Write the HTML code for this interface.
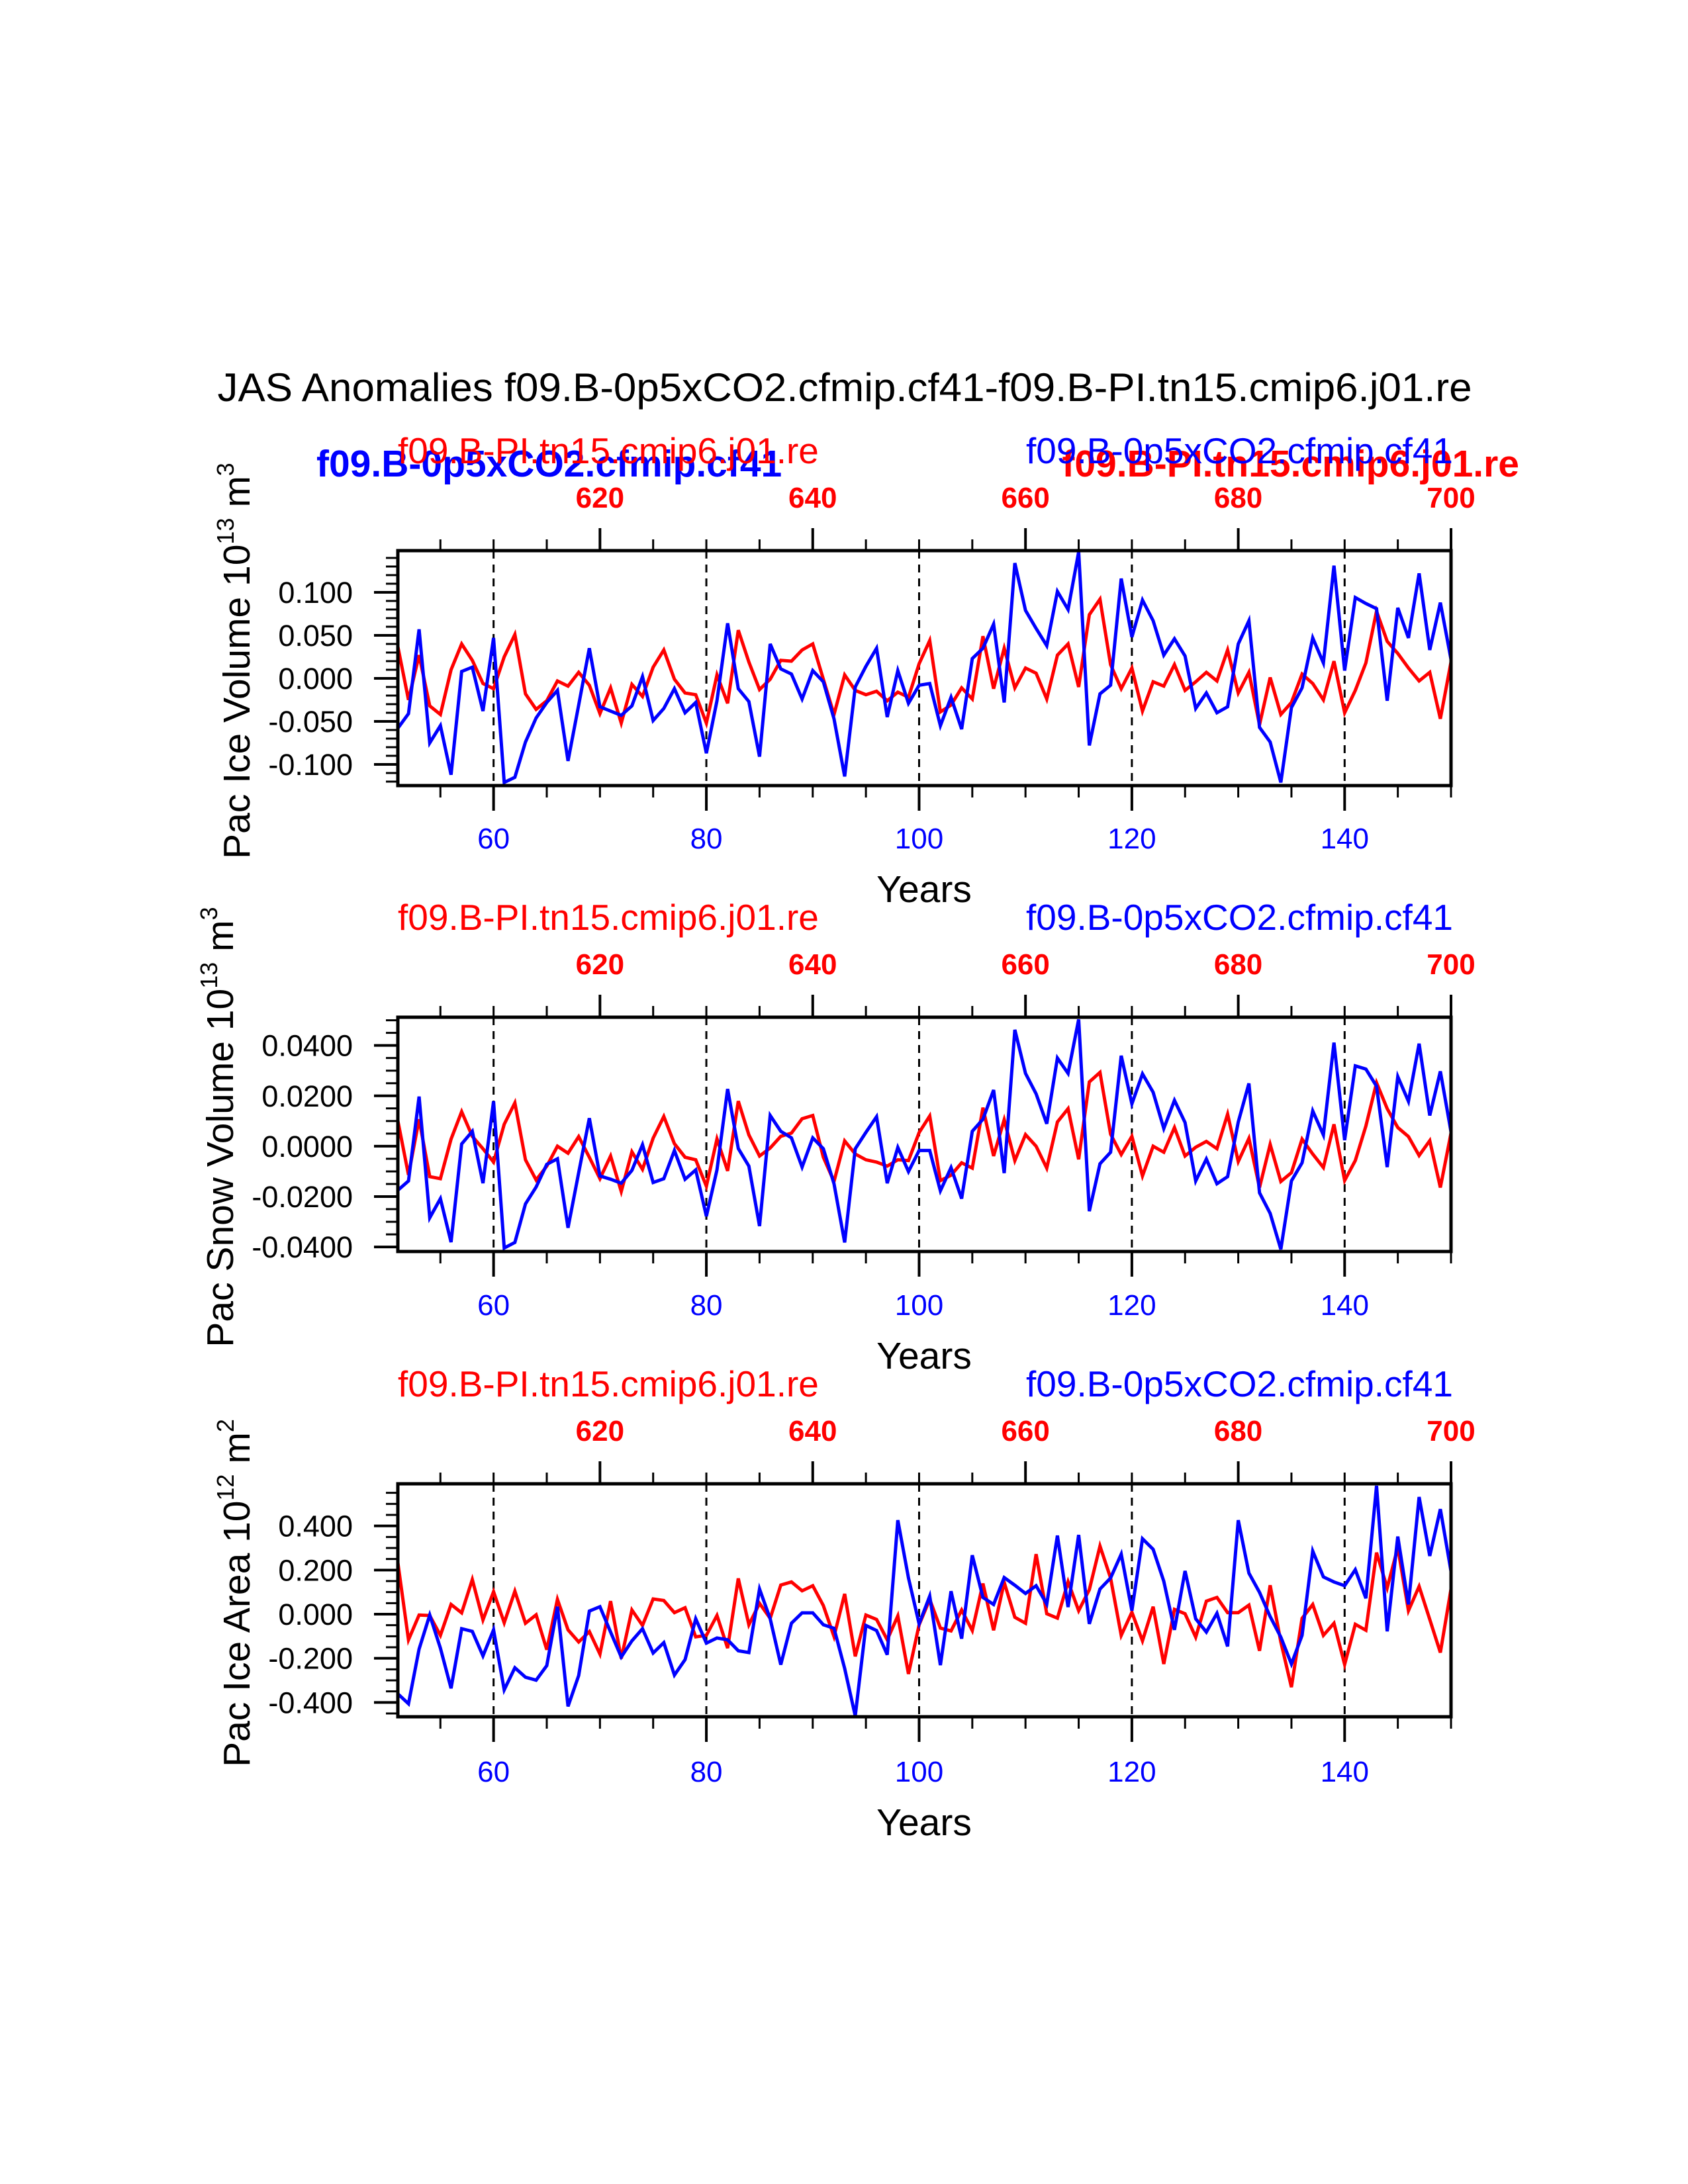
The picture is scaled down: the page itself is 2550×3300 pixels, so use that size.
<!DOCTYPE html>
<html><head><meta charset="utf-8"><style>
html,body{margin:0;padding:0;background:#fff;}
svg{display:block;font-family:"Liberation Sans",sans-serif;}
</style></head><body>
<svg id="chart" xmlns="http://www.w3.org/2000/svg" width="2550" height="3300" viewBox="0 0 2550 3300">
<rect width="2550" height="3300" fill="#fff"/>
<text x="1276" y="606" font-size="60" text-anchor="middle" textLength="1895" lengthAdjust="spacingAndGlyphs">JAS Anomalies f09.B-0p5xCO2.cfmip.cf41-f09.B-PI.tn15.cmip6.j01.re</text>
<text x="478" y="720" font-size="57" font-weight="bold" fill="#0000ff">f09.B-0p5xCO2.cfmip.cf41</text>
<text x="2295" y="720" font-size="57" font-weight="bold" fill="#ff0000" text-anchor="end">f09.B-PI.tn15.cmip6.j01.re</text>
</svg>
<script>
const years = [];
for (let y = 51; y <= 150; y++) years.push(y);
const iceVolBlue = [-0.058,-0.041,0.057,-0.075,-0.055,-0.112,0.008,0.013,-0.038,0.047,-0.121,-0.115,-0.074,-0.046,-0.028,-0.014,-0.096,-0.031,0.035,-0.033,-0.038,-0.043,-0.032,0.002,-0.049,-0.035,-0.012,-0.040,-0.028,-0.087,-0.026,0.064,-0.012,-0.027,-0.091,0.040,0.011,0.005,-0.024,0.009,-0.004,-0.047,-0.114,-0.010,0.014,0.035,-0.045,0.009,-0.029,-0.008,-0.006,-0.055,-0.022,-0.059,0.023,0.035,0.063,-0.028,0.134,0.079,0.058,0.038,0.101,0.080,0.147,-0.078,-0.018,-0.008,0.116,0.048,0.091,0.067,0.027,0.046,0.026,-0.035,-0.017,-0.040,-0.033,0.040,0.067,-0.057,-0.074,-0.121,-0.034,-0.011,0.047,0.018,0.131,0.009,0.094,0.087,0.081,-0.026,0.082,0.047,0.122,0.033,0.088,0.022];
const iceVolRed = [0.037,-0.025,0.027,-0.032,-0.042,0.010,0.040,0.021,-0.006,-0.012,0.025,0.051,-0.018,-0.036,-0.026,-0.003,-0.009,0.007,-0.008,-0.041,-0.011,-0.052,-0.007,-0.021,0.013,0.033,-0.001,-0.017,-0.019,-0.052,0.004,-0.029,0.056,0.019,-0.013,-0.001,0.021,0.020,0.033,0.040,-0.001,-0.042,0.004,-0.014,-0.019,-0.015,-0.026,-0.016,-0.022,0.017,0.044,-0.039,-0.031,-0.011,-0.024,0.049,-0.012,0.035,-0.011,0.012,0.006,-0.024,0.027,0.040,-0.010,0.074,0.092,0.016,-0.012,0.012,-0.038,-0.004,-0.009,0.016,-0.014,-0.004,0.007,-0.003,0.033,-0.017,0.007,-0.054,0.001,-0.042,-0.028,0.005,-0.006,-0.025,0.020,-0.040,-0.014,0.018,0.078,0.043,0.029,0.012,-0.003,0.007,-0.047,0.019];
const snowBlue = [-0.0175,-0.0138,0.0197,-0.0284,-0.0208,-0.0381,0.0009,0.0059,-0.0147,0.0178,-0.0404,-0.0382,-0.0229,-0.0162,-0.0072,-0.0050,-0.0324,-0.0105,0.0111,-0.0118,-0.0131,-0.0147,-0.0096,0.0006,-0.0144,-0.0129,-0.0017,-0.0131,-0.0094,-0.0278,-0.0094,0.0227,-0.0009,-0.0079,-0.0317,0.0122,0.0059,0.0033,-0.0083,0.0033,-0.0010,-0.0149,-0.0382,-0.0010,0.0055,0.0117,-0.0147,-0.0005,-0.0101,-0.0017,-0.0017,-0.0177,-0.0085,-0.0208,0.0059,0.0107,0.0223,-0.0107,0.0462,0.0289,0.0208,0.0089,0.0350,0.0289,0.0503,-0.0258,-0.0070,-0.0024,0.0359,0.0168,0.0287,0.0214,0.0070,0.0182,0.0094,-0.0138,-0.0051,-0.0149,-0.0121,0.0096,0.0249,-0.0185,-0.0267,-0.0409,-0.0138,-0.0066,0.0140,0.0045,0.0411,0.0024,0.0319,0.0306,0.0238,-0.0083,0.0276,0.0178,0.0407,0.0122,0.0297,0.0057];
const snowRed = [0.0101,-0.0114,0.0107,-0.0121,-0.0129,0.0028,0.0137,0.0039,-0.0010,-0.0063,0.0087,0.0172,-0.0054,-0.0134,-0.0079,0.0000,-0.0028,0.0038,-0.0044,-0.0129,-0.0039,-0.0180,-0.0022,-0.0092,0.0032,0.0118,0.0010,-0.0044,-0.0054,-0.0159,0.0029,-0.0098,0.0179,0.0045,-0.0039,-0.0007,0.0039,0.0052,0.0109,0.0122,-0.0044,-0.0140,0.0021,-0.0031,-0.0054,-0.0063,-0.0079,-0.0054,-0.0057,0.0054,0.0120,-0.0137,-0.0115,-0.0066,-0.0087,0.0153,-0.0039,0.0105,-0.0057,0.0046,0.0000,-0.0087,0.0096,0.0149,-0.0052,0.0255,0.0293,0.0048,-0.0033,0.0039,-0.0118,0.0000,-0.0024,0.0074,-0.0039,-0.0004,0.0019,-0.0010,0.0127,-0.0061,0.0031,-0.0164,0.0007,-0.0140,-0.0105,0.0028,-0.0031,-0.0085,0.0087,-0.0136,-0.0057,0.0080,0.0252,0.0149,0.0074,0.0038,-0.0037,0.0022,-0.0164,0.0052];
const areaBlue = [-0.361,-0.406,-0.158,-0.004,-0.154,-0.336,-0.066,-0.078,-0.189,-0.071,-0.343,-0.243,-0.286,-0.299,-0.233,0.034,-0.418,-0.278,0.014,0.034,-0.081,-0.194,-0.121,-0.066,-0.176,-0.129,-0.276,-0.206,-0.021,-0.131,-0.108,-0.116,-0.166,-0.174,0.114,-0.021,-0.229,-0.041,0.006,0.006,-0.048,-0.064,-0.246,-0.461,-0.051,-0.074,-0.184,0.426,0.164,-0.044,0.082,-0.231,0.104,-0.111,0.267,0.076,0.044,0.166,0.131,0.094,0.129,0.046,0.356,0.032,0.359,-0.044,0.114,0.164,0.272,0.016,0.342,0.294,0.149,-0.071,0.196,-0.021,-0.081,0.004,-0.146,0.426,0.186,0.099,-0.011,-0.104,-0.226,-0.096,0.286,0.169,0.146,0.129,0.202,0.072,0.582,-0.078,0.352,0.044,0.531,0.264,0.476,0.194];
const areaRed = [0.234,-0.116,-0.004,-0.006,-0.096,0.044,0.006,0.157,-0.026,0.102,-0.039,0.104,-0.041,-0.003,-0.161,0.067,-0.071,-0.126,-0.079,-0.181,0.059,-0.201,0.019,-0.051,0.069,0.062,0.007,0.029,-0.103,-0.096,-0.006,-0.154,0.162,-0.048,0.049,-0.019,0.132,0.146,0.106,0.129,0.039,-0.101,0.092,-0.191,-0.004,-0.024,-0.116,-0.008,-0.271,-0.048,0.067,-0.063,-0.076,0.019,-0.074,0.139,-0.073,0.144,-0.014,-0.041,0.272,0.002,-0.018,0.147,0.016,0.111,0.309,0.164,-0.096,0.009,-0.121,0.034,-0.226,0.022,0.002,-0.104,0.059,0.076,0.007,0.007,0.041,-0.166,0.131,-0.126,-0.331,-0.019,0.044,-0.096,-0.041,-0.228,-0.046,-0.073,0.279,0.119,0.302,0.016,0.126,-0.024,-0.174,0.114];
const bottomTicks = [60,80,100,120,140];
const topTickLabels = ["620","640","660","680","700"];
const ticks1 = [0.1,0.05,0,-0.05,-0.1];
const tickLabels1 = ["0.100","0.050","0.000","-0.050","-0.100"];
const ticks2 = [0.04,0.02,0,-0.02,-0.04];
const tickLabels2 = ["0.0400","0.0200","0.0000","-0.0200","-0.0400"];
const ticks3 = [0.4,0.2,0,-0.2,-0.4];
const tickLabels3 = ["0.400","0.200","0.000","-0.200","-0.400"];

const NS = "http://www.w3.org/2000/svg";
const svg = document.getElementById("chart");
const X0 = 601, X1 = 2192, Y0 = 51, Y1 = 150;
function xs(y){ return X0 + (y - Y0) / (Y1 - Y0) * (X1 - X0); }
function mk(tag, attrs, parent){ const e = document.createElementNS(NS, tag); for (const k in attrs) e.setAttribute(k, attrs[k]); (parent||svg).appendChild(e); return e; }

const panels = [
 {top:832, bot:1187, vmax:0.1485, vmin:-0.1246, minor:0.01, ticks:ticks1, labels:tickLabels1, blue:iceVolBlue, red:iceVolRed, title:["Pac Ice Volume 10","13"," m","3"], tx:377, name:"ice-volume"},
 {top:1537, bot:1891, vmax:0.0512, vmin:-0.0418, minor:0.005, ticks:ticks2, labels:tickLabels2, blue:snowBlue, red:snowRed, title:["Pac Snow Volume 10","13"," m","3"], tx:352, name:"snow-volume"},
 {top:2242, bot:2594, vmax:0.591, vmin:-0.465, minor:0.05, ticks:ticks3, labels:tickLabels3, blue:areaBlue, red:areaRed, title:["Pac Ice Area 10","12"," m","2"], tx:377, name:"ice-area"}
];

panels.forEach((p, i) => {
  const g = mk("g", {});
  
  
  const ys = v => p.top + (p.vmax - v) / (p.vmax - p.vmin) * (p.bot - p.top);
  const off = p.top - 832;
  const st1 = mk("text", {x:X0, y:700+off, "font-size":55, fill:"#ff0000"}, g);
  st1.textContent = "f09.B-PI.tn15.cmip6.j01.re";
  
  
  const st2 = mk("text", {x:X1 + 3, y:700+off, "font-size":55, fill:"#0000ff", "text-anchor":"end"}, g);
  st2.textContent = "f09.B-0p5xCO2.cfmip.cf41";
  
  
  bottomTicks.forEach(t => {
    const l = mk("line", {x1:xs(t), x2:xs(t), y1:p.top, y2:p.bot, stroke:"#000", "stroke-width":3, "stroke-dasharray":"12,9"}, g);
    
    
  });
  [["red", p.red, "#ff0000"], ["blue", p.blue, "#0000ff"]].forEach(([nm, arr, col]) => {
    const pts = arr.map((v, k) => xs(years[k]).toFixed(1) + "," + ys(v).toFixed(1)).join(" ");
    const pl = mk("polyline", {points:pts, fill:"none", stroke:col, "stroke-width":5, "stroke-linejoin":"miter"}, g);
    
    
  });
  const fr = mk("rect", {x:X0, y:p.top, width:X1-X0, height:p.bot-p.top, fill:"none", stroke:"#000", "stroke-width":5}, g);
  
  
  for (let y = 55; y <= 150; y += 5) {
    const major = (y % 20 === 0);
    const l = mk("line", {x1:xs(y), x2:xs(y), y1:p.bot, y2:p.bot + (major ? 38 : 18), stroke:"#000", "stroke-width":major ? 4 : 3}, g);
    
    
    const topMajor = ((y - 70) % 20 === 0);
    const l2 = mk("line", {x1:xs(y), x2:xs(y), y1:p.top, y2:p.top - (topMajor ? 34 : 17), stroke:"#000", "stroke-width":topMajor ? 4 : 3}, g);
    
    
  }
  bottomTicks.forEach(t => {
    const tl = mk("text", {x:xs(t), y:1282+off, "font-size":44, fill:"#0000ff", "text-anchor":"middle"}, g);
    tl.textContent = String(t);
    
    
  });
  topTickLabels.forEach((lab, k) => {
    const tl = mk("text", {x:xs(70 + 20*k), y:767+off, "font-size":44, "font-weight":"bold", fill:"#ff0000", "text-anchor":"middle"}, g);
    tl.textContent = lab;
    
    
  });
  const xt = mk("text", {x:1396, y:1363+off, "font-size":57, "text-anchor":"middle"}, g);
  xt.textContent = "Years";
  
  
  const nmin = Math.ceil(p.vmin / p.minor - 1e-6), nmax = Math.floor(p.vmax / p.minor + 1e-6);
  for (let n = nmin; n <= nmax; n++) {
    const v = n * p.minor;
    const isMajor = p.ticks.some(t => Math.abs(t - v) < p.minor / 10);
    const l = mk("line", {x1:X0, x2:X0 - (isMajor ? 36 : 18), y1:ys(v), y2:ys(v), stroke:"#000", "stroke-width":isMajor ? 4 : 3}, g);
    
    
  }
  p.ticks.forEach((t, k) => {
    const tl = mk("text", {x:533, y:ys(t) + 16, "font-size":45, "text-anchor":"end"}, g);
    tl.textContent = p.labels[k];
    
    
  });
  const cy = (p.top + p.bot) / 2 - 11;
  const yt = mk("text", {x:0, y:0, "font-size":57, "text-anchor":"middle", transform:"translate(" + p.tx + "," + cy + ") rotate(-90)"}, g);
  
  
  const parts = p.title;
  const a = mk("tspan", {}, yt); a.textContent = parts[0];
  const b = mk("tspan", {"font-size":36, dy:-24}, yt); b.textContent = parts[1];
  const c = mk("tspan", {dy:24}, yt); c.textContent = parts[2];
  const d = mk("tspan", {"font-size":36, dy:-24}, yt); d.textContent = parts[3];
});
</script>
</body></html>
